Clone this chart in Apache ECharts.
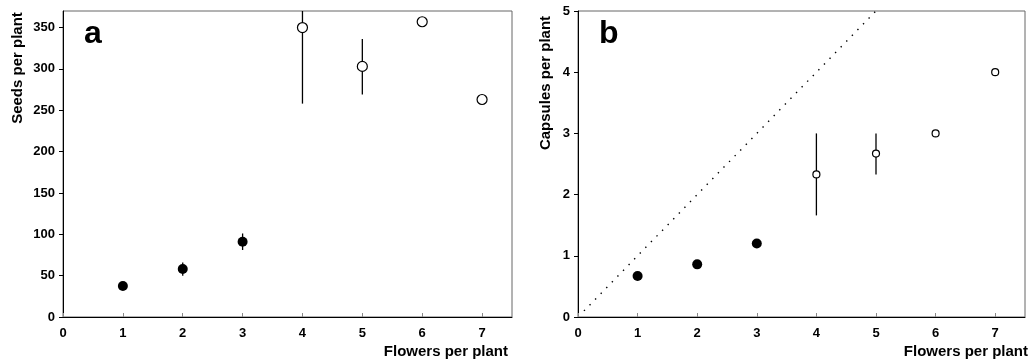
<!DOCTYPE html>
<html>
<head>
<meta charset="utf-8">
<script src="https://cdn.jsdelivr.net/npm/echarts@6/dist/echarts.min.js"></script>
<style>
html,body{margin:0;padding:0;background:#fff;}
#chart{width:1033px;height:361px;}
</style>
</head>
<body>
<div id="chart"></div>
<script>
// ---- data ----
var xTicks = [0, 1, 2, 3, 4, 5, 6, 7];
var seedTicks = [0, 50, 100, 150, 200, 250, 300, 350];
var capsTicks = [0, 1, 2, 3, 4, 5];

// panel a: seeds per plant
var seedsFilledX = [1, 2, 3];
var seedsFilledY = [37.5, 58, 91];
var seedsFilledLo = [37.5, 50, 81];
var seedsFilledHi = [37.5, 66, 101];
var seedsOpenX = [4, 5, 6, 7];
var seedsOpenY = [350, 303, 357, 263];
var seedsOpenLo = [258, 269, 357, 263];
var seedsOpenHi = [442, 336, 357, 263];

// panel b: capsules per plant
var capsFilledX = [1, 2, 3];
var capsFilledY = [0.67, 0.86, 1.2];
var capsOpenX = [4, 5, 6, 7];
var capsOpenY = [2.33, 2.67, 3.0, 4.0];
var capsOpenLo = [1.66, 2.33, 3.0, 4.0];
var capsOpenHi = [3.0, 3.0, 3.0, 4.0];
var oneToOne = [[0.1, 0.1], [5, 5]];

// ---- helpers ----
function zip(xs, ys) { return xs.map(function (x, i) { return [x, ys[i]]; }); }
function zip3(xs, lo, hi) { return xs.map(function (x, i) { return [x, lo[i], hi[i]]; }); }

var FONT = '"Liberation Sans", Arial, sans-serif';

function errSeries(idx, data) {
  return {
    type: 'custom', xAxisIndex: idx, yAxisIndex: idx, clip: true, z: 1,
    data: data,
    renderItem: function (params, api) {
      var p1 = api.coord([api.value(0), api.value(1)]);
      var p2 = api.coord([api.value(0), api.value(2)]);
      return { type: 'line', shape: { x1: p1[0], y1: p1[1], x2: p2[0], y2: p2[1] },
        style: { stroke: '#000', lineWidth: 1.3 } };
    }
  };
}

function xAxisDef(idx) {
  return {
    type: 'value', gridIndex: idx, min: 0, max: 7.5, interval: 1,
    axisLine: { show: true, lineStyle: { color: '#000', width: 1 } },
    axisTick: { show: true, inside: true, length: 4, lineStyle: { color: '#888' }, customValues: xTicks },
    axisLabel: { customValues: xTicks, color: '#000', fontWeight: 'bold', fontSize: 13, fontFamily: FONT, margin: 10 },
    splitLine: { show: false }
  };
}
function yAxisDef(idx, max, interval, ticks) {
  return {
    type: 'value', gridIndex: idx, min: 0, max: max, interval: interval,
    axisLine: { show: true, lineStyle: { color: '#000', width: 1 } },
    axisTick: { show: true, inside: false, length: 4, lineStyle: { color: '#000' }, customValues: ticks },
    axisLabel: { customValues: ticks, color: '#000', fontWeight: 'bold', fontSize: 13, fontFamily: FONT, margin: 8 },
    splitLine: { show: false }
  };
}

var chart = echarts.init(document.getElementById('chart'), null, { renderer: 'canvas' });
chart.setOption({
  animation: false,
  backgroundColor: '#fff',
  grid: [
    { left: 63, top: 11, width: 449, height: 306, show: true, borderColor: '#666', borderWidth: 1, containLabel: false },
    { left: 578, top: 11, width: 447, height: 306, show: true, borderColor: '#666', borderWidth: 1, containLabel: false }
  ],
  xAxis: [xAxisDef(0), xAxisDef(1)],
  yAxis: [yAxisDef(0, 370, 50, seedTicks), yAxisDef(1, 5, 1, capsTicks)],
  series: [
    errSeries(0, zip3(seedsFilledX, seedsFilledLo, seedsFilledHi)),
    errSeries(0, zip3(seedsOpenX, seedsOpenLo, seedsOpenHi)),
    { type: 'scatter', xAxisIndex: 0, yAxisIndex: 0, z: 3, symbol: 'circle', symbolSize: 10,
      itemStyle: { color: '#000', opacity: 1 }, data: zip(seedsFilledX, seedsFilledY) },
    { type: 'scatter', xAxisIndex: 0, yAxisIndex: 0, z: 3, symbol: 'circle', symbolSize: 10,
      itemStyle: { color: '#fff', borderColor: '#000', borderWidth: 1.2, opacity: 1 }, data: zip(seedsOpenX, seedsOpenY) },
    { type: 'line', xAxisIndex: 1, yAxisIndex: 1, z: 1, symbol: 'none', data: oneToOne,
      lineStyle: { color: '#000', width: 1.4, type: [1.4, 6.6] } },
    errSeries(1, zip3(capsOpenX, capsOpenLo, capsOpenHi)),
    { type: 'scatter', xAxisIndex: 1, yAxisIndex: 1, z: 3, symbol: 'circle', symbolSize: 10,
      itemStyle: { color: '#000', opacity: 1 }, data: zip(capsFilledX, capsFilledY) },
    { type: 'scatter', xAxisIndex: 1, yAxisIndex: 1, z: 3, symbol: 'circle', symbolSize: 7,
      itemStyle: { color: '#fff', borderColor: '#000', borderWidth: 1.2, opacity: 1 }, data: zip(capsOpenX, capsOpenY) }
  ],
  graphic: [
    { type: 'text', x: 84, y: 34, style: { text: 'a', font: 'bold 32px ' + FONT, fill: '#000', textVerticalAlign: 'middle' } },
    { type: 'text', x: 599, y: 34, style: { text: 'b', font: 'bold 32px ' + FONT, fill: '#000', textVerticalAlign: 'middle' } },
    { type: 'text', x: 18, y: 68, rotation: Math.PI / 2, style: { text: 'Seeds per plant', font: 'bold 15px ' + FONT, fill: '#000', textAlign: 'center', textVerticalAlign: 'middle' } },
    { type: 'text', x: 546, y: 83, rotation: Math.PI / 2, style: { text: 'Capsules per plant', font: 'bold 15px ' + FONT, fill: '#000', textAlign: 'center', textVerticalAlign: 'middle' } },
    { type: 'text', x: 508, y: 352, style: { text: 'Flowers per plant', font: 'bold 15px ' + FONT, fill: '#000', textAlign: 'right', textVerticalAlign: 'middle' } },
    { type: 'text', x: 1028, y: 352, style: { text: 'Flowers per plant', font: 'bold 15px ' + FONT, fill: '#000', textAlign: 'right', textVerticalAlign: 'middle' } }
  ]
});
</script>
</body>
</html>
